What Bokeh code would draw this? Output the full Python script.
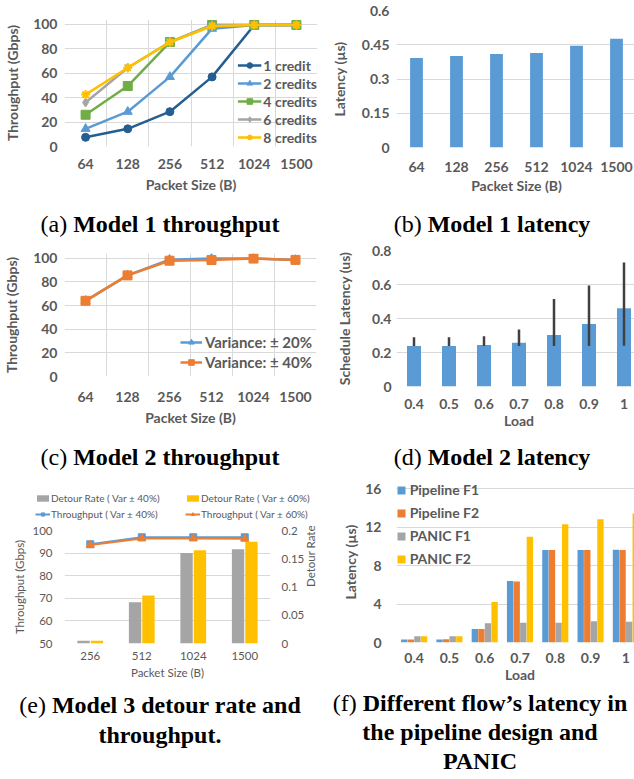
import math
from bokeh.plotting import figure
from bokeh.layouts import row, column
from bokeh.models import (ColumnDataSource, FixedTicker, Range1d, LinearAxis, Legend,
                          LegendItem, Div, NumeralTickFormatter)
from bokeh.transform import dodge
from bokeh.embed import file_html
from bokeh.resources import INLINE

# ---------------- data ----------------
pkt_sizes = ["64", "128", "256", "512", "1024", "1500"]
a_1credit = [7.5, 14.5, 28.5, 57, 99.5, 99.5]
a_2credits = [14.5, 28.5, 57, 96.5, 99.5, 99.5]
a_4credits = [26, 49.5, 85.5, 99.5, 99.5, 99.5]
a_6credits = [36, 64.5, 85.5, 99.5, 99.5, 99.5]
a_8credits = [42.5, 64.5, 85.5, 98.5, 99.5, 99.5]
a_yticks = [0, 20, 40, 60, 80, 100]

b_latency = [0.392, 0.401, 0.41, 0.414, 0.446, 0.476]
b_yticks = [0, 0.15, 0.3, 0.45, 0.6]

c_var20 = [64, 85.5, 98.8, 99.7, 99.7, 98.6]
c_var40 = [64, 85.5, 97.9, 98.5, 99.7, 98.6]

loads = ["0.4", "0.5", "0.6", "0.7", "0.8", "0.9", "1"]
d_latency = [0.238, 0.238, 0.244, 0.258, 0.303, 0.368, 0.46]
d_err_low = [0.238, 0.238, 0.238, 0.238, 0.238, 0.238, 0.24]
d_err_high = [0.289, 0.289, 0.295, 0.336, 0.515, 0.594, 0.729]
d_yticks = [0, 0.2, 0.4, 0.6, 0.8]

e_sizes = ["256", "512", "1024", "1500"]
e_detour40 = [0.005, 0.073, 0.16, 0.167]
e_detour60 = [0.005, 0.085, 0.165, 0.18]
e_tput40 = [93.9, 97.0, 97.0, 97.0]
e_tput60 = [93.6, 96.5, 96.5, 96.3]
e_yticks = [50, 60, 70, 80, 90, 100]
e_rticks = [0, 0.05, 0.1, 0.15, 0.2]

f_pipe_f1 = [0.3, 0.3, 1.4, 6.4, 9.6, 9.6, 9.65]
f_pipe_f2 = [0.3, 0.35, 1.4, 6.35, 9.6, 9.6, 9.6]
f_panic_f1 = [0.65, 0.65, 2.0, 2.05, 2.05, 2.2, 2.15]
f_panic_f2 = [0.65, 0.65, 4.2, 11.0, 12.3, 12.8, 13.4]
f_yticks = [0, 4, 8, 12, 16]

# ---------------- style ----------------
FONT = "Lato"
TXT = "#595959"
GRIDC = "#d9d9d9"
BLUE = "#5b9bd5"
ORANGE = "#ed7d31"
GRAY = "#a5a5a5"
GOLD = "#ffc000"
DBLUE = "#255e91"
GREEN = "#70ad47"
TS = "14px"


def base_fig(xr, yr, bl, fw, br, bt, fh, bb, axes=True):
    kw = {}
    if not axes:
        kw = dict(x_axis_location=None, y_axis_location=None)
    p = figure(width=bl + fw + br, height=bt + fh + bb, frame_width=fw, frame_height=fh,
               x_range=xr, y_range=yr, output_backend="svg",
               toolbar_location=None, min_border_left=bl, min_border_right=br,
               min_border_top=bt, min_border_bottom=bb, **kw)
    p.outline_line_color = None
    p.border_fill_color = "white"
    p.background_fill_color = "white"
    p.grid.grid_line_color = GRIDC
    p.grid.grid_line_width = 1
    return p


def style_axis(ax, size, bold=True, lstand=5, tstand=0, title_size=None):
    ax.axis_line_color = None
    ax.major_tick_line_color = None
    ax.minor_tick_line_color = None
    ax.major_tick_out = 0
    ax.major_tick_in = 0
    ax.minor_tick_out = 0
    ax.minor_tick_in = 0
    ax.major_label_text_font = FONT
    ax.major_label_text_font_size = size
    ax.major_label_text_font_style = "bold" if bold else "normal"
    ax.major_label_text_color = TXT
    ax.axis_label_text_font = FONT
    ax.axis_label_text_font_size = title_size or size
    ax.axis_label_text_font_style = "bold" if bold else "normal"
    ax.axis_label_text_color = TXT
    ax.major_label_standoff = lstand
    ax.axis_label_standoff = tstand


def style_legend(leg, size, bold, gw, gh, lh, sp, stand, margin=0):
    leg.label_text_font = FONT
    leg.label_text_font_size = size
    leg.label_text_font_style = "bold" if bold else "normal"
    leg.label_text_color = TXT
    leg.glyph_width = gw
    leg.glyph_height = gh
    leg.label_height = lh
    leg.spacing = sp
    leg.label_standoff = stand
    leg.padding = 0
    leg.margin = margin
    leg.border_line_color = None
    leg.background_fill_alpha = 0


def cat_axis(p, labels, with_grid):
    xs = list(range(1, len(labels) + 1))
    p.xaxis.ticker = FixedTicker(ticks=xs)
    p.xaxis.major_label_overrides = {i: s for i, s in zip(xs, labels)}
    if with_grid:
        p.xgrid.ticker = FixedTicker(ticks=[i + 0.5 for i in range(0, len(labels) + 1)])
    else:
        p.xgrid.visible = False
    return xs


# ---------------- (a) ----------------
n = len(pkt_sizes)
pa = base_fig(Range1d(0.5, n + 0.5), Range1d(0, 104), 62, 253, 5, 19, 127, 54)
xs = cat_axis(pa, pkt_sizes, True)
pa.yaxis.ticker = FixedTicker(ticks=a_yticks)
pa.xaxis.axis_label = "Packet Size (B)"
pa.yaxis.axis_label = "Throughput (Gbps)"
style_axis(pa.xaxis[0], TS, True, lstand=12, tstand=4)
style_axis(pa.yaxis[0], TS, True, lstand=7, tstand=9)
items = []
for label, ys, col, mk, sz in [("1 credit", a_1credit, DBLUE, "circle", 8),
                               ("2 credits", a_2credits, BLUE, "triangle", 9),
                               ("4 credits", a_4credits, GREEN, "square", 9),
                               ("6 credits", a_6credits, GRAY, "diamond", 9),
                               ("8 credits", a_8credits, GOLD, "asterisk", 9)]:
    src = ColumnDataSource(dict(x=xs, y=ys))
    l = pa.line("x", "y", source=src, line_color=col, line_width=2.5)
    m = pa.scatter("x", "y", source=src, marker=mk, size=sz, fill_color=col,
                   line_color=col, line_width=2 if mk == "asterisk" else 1)
    items.append(LegendItem(label=label, renderers=[l, m]))
lega = Legend(items=items, location="bottom_right")
style_legend(lega, TS, True, 24, 14, 18, 0, 2)
pa.add_layout(lega)

# ---------------- (b) ----------------
pb = base_fig(Range1d(0.5, n + 0.5), Range1d(0, 0.6), 72, 240, 0, 10, 137, 53)
xb = cat_axis(pb, pkt_sizes, False)
pb.vbar(x="x", top="top", width=0.32, source=ColumnDataSource(dict(x=xb, top=b_latency)),
        fill_color=BLUE, line_color=None)
pb.yaxis.ticker = FixedTicker(ticks=b_yticks)
pb.yaxis.formatter = NumeralTickFormatter(format="0.[00]")
pb.xaxis.axis_label = "Packet Size (B)"
pb.yaxis.axis_label = "Latency (µs)"
style_axis(pb.xaxis[0], TS, True, lstand=14, tstand=2)
style_axis(pb.yaxis[0], TS, True, lstand=7, tstand=11)

# ---------------- (c) ----------------
pc = base_fig(Range1d(0.5, n + 0.5), Range1d(0, 104), 63, 252, 5, 13, 123, 64)
xc = cat_axis(pc, pkt_sizes, True)
pc.yaxis.ticker = FixedTicker(ticks=a_yticks)
pc.xaxis.axis_label = "Packet Size (B)"
pc.yaxis.axis_label = "Throughput (Gbps)"
style_axis(pc.xaxis[0], TS, True, lstand=15, tstand=4)
style_axis(pc.yaxis[0], TS, True, lstand=7, tstand=10)
items = []
for label, ys, col, mk in [("Variance: ± 20%", c_var20, BLUE, "triangle"),
                           ("Variance: ± 40%", c_var40, ORANGE, "square")]:
    src = ColumnDataSource(dict(x=xc, y=ys))
    l = pc.line("x", "y", source=src, line_color=col, line_width=2.5)
    m = pc.scatter("x", "y", source=src, marker=mk, size=9, fill_color=col, line_color=col)
    items.append(LegendItem(label=label, renderers=[l, m]))
legc = Legend(items=items, location="bottom_right")
style_legend(legc, "15px", True, 22, 14, 20, 0, 3)
legc.margin = 4
pc.add_layout(legc)

# ---------------- (d) ----------------
nl = len(loads)
pdd = base_fig(Range1d(0.5, nl + 0.5), Range1d(0, 0.8), 67, 245, 0, 10, 136, 54)
xd = cat_axis(pdd, loads, False)
pdd.vbar(x="x", top="top", width=0.4, source=ColumnDataSource(dict(x=xd, top=d_latency)),
         fill_color=BLUE, line_color=None)
pdd.segment(x0="x", y0="lo", x1="x", y1="hi",
            source=ColumnDataSource(dict(x=xd, lo=d_err_low, hi=d_err_high)),
            line_color="#404040", line_width=2.5)
pdd.yaxis.ticker = FixedTicker(ticks=d_yticks)
pdd.yaxis.formatter = NumeralTickFormatter(format="0.[0]")
pdd.xaxis.axis_label = "Load"
pdd.yaxis.axis_label = "Schedule Latency (us)"
style_axis(pdd.xaxis[0], TS, True, lstand=12, tstand=0)
style_axis(pdd.yaxis[0], TS, True, lstand=5, tstand=16)

# ---------------- (e) ----------------
ne = len(e_sizes)
pe = base_fig(Range1d(0.5, ne + 0.5), Range1d(50, 100), 62, 206, 52, 8, 113, 42)
pe.extra_y_ranges = {"detour": Range1d(0, 0.2)}
xe = cat_axis(pe, e_sizes, False)
pe.yaxis.ticker = FixedTicker(ticks=e_yticks)
pe.xaxis.axis_label = "Packet Size (B)"
pe.yaxis.axis_label = "Throughput (Gbps)"
esrc = ColumnDataSource(dict(x=xe, d40=e_detour40, d60=e_detour60, t40=e_tput40, t60=e_tput60))
bar_kw = dict(width=0.24, source=esrc, y_range_name="detour", line_color=None)
pe.vbar(x=dodge("x", -0.13), top="d40", fill_color=GRAY, **bar_kw)
pe.vbar(x=dodge("x", 0.13), top="d60", fill_color=GOLD, **bar_kw)
pe.line("x", "t40", source=esrc, line_color=BLUE, line_width=2)
pe.scatter("x", "t40", source=esrc, marker="square", size=7, fill_color=BLUE, line_color=BLUE)
pe.line("x", "t60", source=esrc, line_color=ORANGE, line_width=2)
pe.scatter("x", "t60", source=esrc, marker="triangle", size=8, fill_color=ORANGE, line_color=ORANGE)
rax = LinearAxis(y_range_name="detour", ticker=FixedTicker(ticks=e_rticks),
                 formatter=NumeralTickFormatter(format="0.[00]"), axis_label="Detour Rate")
try:
    rax.axis_label_orientation = math.pi / 2
except Exception:
    pass
pe.add_layout(rax, "right")
style_axis(pe.xaxis[0], "11.5px", False, lstand=8, tstand=3)
style_axis(pe.yaxis[0], "11.5px", False, lstand=12, tstand=3)
style_axis(rax, "11.5px", False, lstand=11, tstand=3)

# legend strip above (e): same series and styles, its window lies outside the data
pel = base_fig(Range1d(-2, -1), Range1d(-2, -1), 0, 320, 0, 0, 42, 0, axes=False)
pel.grid.visible = False
g_d40 = pel.vbar(x="x", top="d40", width=0.24, source=esrc, fill_color=GRAY, line_color=None)
g_d60 = pel.vbar(x="x", top="d60", width=0.24, source=esrc, fill_color=GOLD, line_color=None)
g_l40 = pel.line("x", "t40", source=esrc, line_color=BLUE, line_width=2)
g_m40 = pel.scatter("x", "t40", source=esrc, marker="square", size=7, fill_color=BLUE, line_color=BLUE)
g_l60 = pel.line("x", "t60", source=esrc, line_color=ORANGE, line_width=2)
g_m60 = pel.scatter("x", "t60", source=esrc, marker="triangle", size=8, fill_color=ORANGE, line_color=ORANGE)
le1 = Legend(items=[LegendItem(label="Detour Rate ( Var ± 40%)", renderers=[g_d40]),
                    LegendItem(label="Throughput ( Var ± 40%)", renderers=[g_l40, g_m40])],
             location=(35, 1))
le2 = Legend(items=[LegendItem(label="Detour Rate ( Var ± 60%)", renderers=[g_d60]),
                    LegendItem(label="Throughput ( Var ± 60%)", renderers=[g_l60, g_m60])],
             location=(185, 1))
for lg in (le1, le2):
    style_legend(lg, "10px", False, 15, 8, 14, 2, 1)
    pel.add_layout(lg)

# ---------------- (f) ----------------
pf = base_fig(Range1d(0.5, nl + 0.5), Range1d(0, 16.73), 65, 247, 0, 1, 161, 43)
xf = cat_axis(pf, loads, False)
pf.yaxis.ticker = FixedTicker(ticks=f_yticks)
pf.xaxis.axis_label = "Load"
pf.yaxis.axis_label = "Latency (µs)"
fsrc = ColumnDataSource(dict(x=xf, p1=f_pipe_f1, p2=f_pipe_f2, q1=f_panic_f1, q2=f_panic_f2))
items = []
for label, key, col, off in [("Pipeline F1", "p1", BLUE, -0.28),
                             ("Pipeline F2", "p2", ORANGE, -0.093),
                             ("PANIC F1", "q1", GRAY, 0.093),
                             ("PANIC F2", "q2", GOLD, 0.28)]:
    r = pf.vbar(x=dodge("x", off), top=key, width=0.18, source=fsrc,
                fill_color=col, line_color=None)
    items.append(LegendItem(label=label, renderers=[r]))
legf = Legend(items=items, location=(12, 161 - 86))
style_legend(legf, TS, True, 10, 10, 17, 6, 4)
pf.add_layout(legf)
style_axis(pf.xaxis[0], TS, True, lstand=10, tstand=0)
style_axis(pf.yaxis[0], TS, True, lstand=15, tstand=3)


# ---------------- captions ----------------
def cap(html, w, h, lh, pad_top=0, pad_left=0):
    return Div(text=(f'<div style="width:{w}px;height:{h}px;'
                     f'box-sizing:border-box;text-align:center;'
                     f"font-family:'Liberation Serif',serif;font-size:24px;"
                     f'line-height:{lh}px;padding-top:{pad_top}px;padding-left:{pad_left}px;'
                     f'color:#000;white-space:nowrap">{html}</div>'),
               width=w, height=h, margin=(0, 0, 0, 0))


cap_a = cap("(a) <b>Model 1 throughput</b>", 320, 40, 40, 4)
cap_b = cap("(b) <b>Model 1 latency</b>", 312, 40, 40, 4, 24)
cap_c = cap("(c) <b>Model 2 throughput</b>", 320, 40, 34)
cap_d = cap("(d) <b>Model 2 latency</b>", 312, 40, 34, 0, 24)
cap_e = cap("(e) <b>Model 3 detour rate and<br>throughput.</b>", 320, 92, 30, 5)
cap_f = cap("(f) <b>Different flow’s latency in<br>the pipeline design and<br>PANIC</b>", 312, 92, 29, 4)

left = column(pa, cap_a, pc, cap_c, pel, pe, cap_e, spacing=0, margin=(0, 0, 0, 0))
right = column(pb, cap_b, pdd, cap_d, pf, cap_f, spacing=0, margin=(0, 0, 0, 0))
layout = row(left, right, spacing=0, margin=(0, 0, 0, 0))

open("out.html", "w").write(file_html(layout, INLINE))
